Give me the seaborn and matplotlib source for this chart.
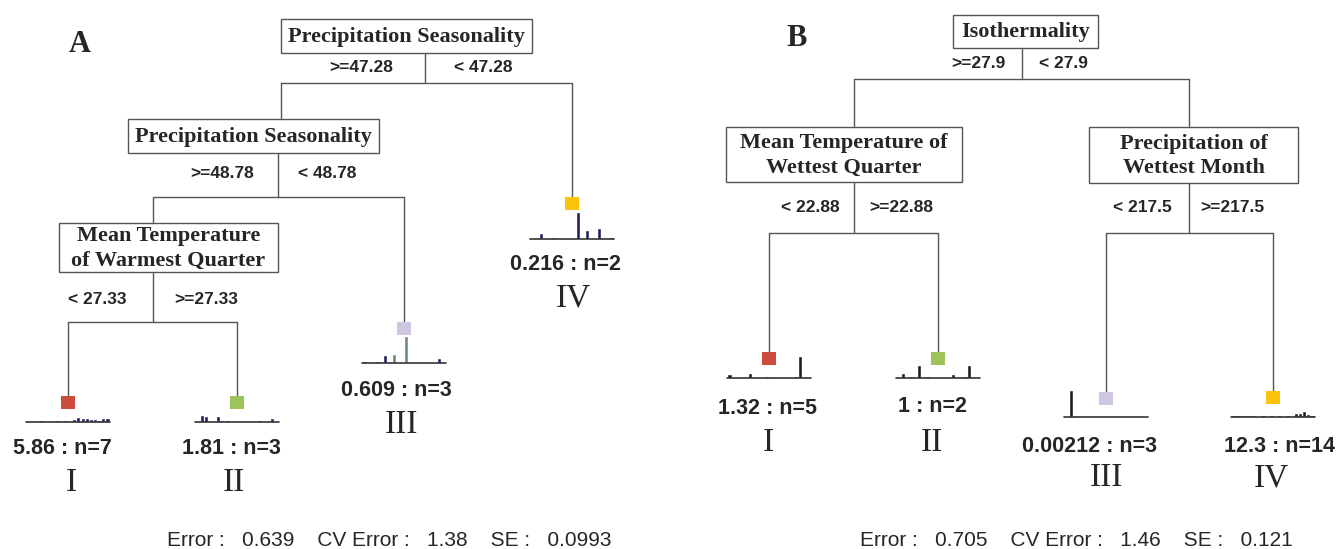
import matplotlib
matplotlib.use("Agg")
import matplotlib.pyplot as plt
import matplotlib.patches as patches
import pandas as pd
import seaborn as sns

W, H = 1339, 549

# ---- tree A ----
a_split_vars = ["Precipitation Seasonality", "Precipitation Seasonality", "Mean Temperature\nof Warmest Quarter"]
a_split_left = [">=47.28", ">=48.78", "< 27.33"]
a_split_right = ["< 47.28", "< 48.78", ">=27.33"]
a_leaf_means = ["5.86", "1.81", "0.609", "0.216"]
a_leaf_n = [7, 3, 3, 2]
a_errors = ["0.639", "1.38", "0.0993"]
a_hists = [
    [0, 0, 0, 1, 0, 0, 0, 1, 0, 1, 0, 2, 4, 3, 3, 2, 2, 1, 3, 3],
    [0, 6, 5, 0, 0, 5, 1.5, 1, 0, 0, 0, 0, 0, 0, 0, 1, 0, 0, 3, 0],
    [1, 0, 0, 1, 0, 7, 0, 8, 0, 0, 26, 0, 0, 0, 0, 0, 0, 0, 4, 0],
    [0, 0, 5, 0, 0, 1, 0, 0, 0, 0, 0, 26, 0, 8, 0, 0, 10, 0, 0, 1],
]
# bins drawn in grey instead of the dark bar colour (leaf index -> bins)
a_grey_bins = {2: [7, 10]}

# ---- tree B ----
b_split_vars = ["Isothermality", "Mean Temperature of\nWettest Quarter", "Precipitation of\nWettest Month"]
b_split_left = [">=27.9", "< 22.88", "< 217.5"]
b_split_right = ["< 27.9", ">=22.88", ">=217.5"]
b_leaf_means = ["1.32", "1", "0.00212", "12.3"]
b_leaf_n = [5, 2, 3, 14]
b_errors = ["0.705", "1.46", "0.121"]
b_hists = [
    [3, 0, 0, 0, 0, 4, 0, 0, 0, 1, 0, 0, 0, 0, 0, 0, 1, 21, 0, 0],
    [0, 4, 0, 1, 0, 12, 0, 1, 0, 0, 0, 0, 0, 3, 0, 0, 1, 12, 0, 0],
    [0, 26, 0, 0, 0, 0, 0, 0, 0, 0, 0, 0, 0, 0, 0, 0, 0, 0, 0, 0],
    [1, 1, 1, 1, 1.5, 1.5, 0, 1, 0, 1, 0, 1, 0, 1, 0, 3, 3, 5, 2, 1.5],
]
b_grey_bins = {}

groups = ["I", "II", "III", "IV"]
group_colors = ["#cd4b3d", "#9dc35b", "#cfc6e1", "#fbc30c"]

# ---- layout (pixels) ----
# box x0,y0,x1,y1 / split x / horizontal bar y / leg x / leg end y / label y / label x
a_nodes = [
    dict(box=(281, 19, 532, 53), split=425, bar=83, legs=(281, 572), ends=(119, 197), lab_y=68, lab_x=(361, 483)),
    dict(box=(128, 119, 379, 153), split=278, bar=197, legs=(153, 404), ends=(223, 322), lab_y=173, lab_x=(222, 327)),
    dict(box=(59, 223, 278, 272), split=153, bar=322, legs=(68, 237), ends=(396, 396), lab_y=299, lab_x=(97, 206)),
]
a_leaves = [
    dict(x=68, top=396, base=422, val=(62, 449), grp=(71, 483)),
    dict(x=237, top=396, base=422, val=(231, 449), grp=(234, 483)),
    dict(x=404, top=322, base=363, val=(396, 390), grp=(401, 425)),
    dict(x=572, top=197, base=239, val=(565, 265), grp=(573, 298)),
]
b_nodes = [
    dict(box=(953, 15, 1098, 48), split=1022, bar=79, legs=(854, 1189), ends=(127, 127), lab_y=63, lab_x=(978, 1063)),
    dict(box=(726, 127, 962, 182), split=854, bar=233, legs=(769, 938), ends=(352, 352), lab_y=207, lab_x=(810, 901)),
    dict(box=(1089, 127, 1298, 183), split=1189, bar=233, legs=(1106, 1273), ends=(392, 391), lab_y=207, lab_x=(1142, 1232)),
]
b_leaves = [
    dict(x=769, top=352, base=378, val=(768, 409), grp=(768, 443)),
    dict(x=938, top=352, base=378, val=(932, 407), grp=(932, 443)),
    dict(x=1106, top=392, base=417, val=(1089, 446), grp=(1106, 478)),
    dict(x=1273, top=391, base=417, val=(1280, 446), grp=(1271, 478)),
]
a_err_x, b_err_x, err_y = 167, 860, 540

sns.set_style("white")
SERIF = "Liberation Serif"
SANS = "Liberation Sans"
LINE = "#555555"
GREY_BAR = "#6f8584"

fig = plt.figure(figsize=(W / 100, H / 100), dpi=100)
ax = fig.add_axes([0, 0, 1, 1])
ax.set_xlim(0, W)
ax.set_ylim(H, 0)
ax.axis("off")


def draw_tree(nodes, split_vars, lefts, rights, leaves, means, ns, hists, bar_color, grey_bins):
    for node, var, lt, rt in zip(nodes, split_vars, lefts, rights):
        x0, y0, x1, y1 = node["box"]
        ax.add_patch(patches.Rectangle((x0, y0), x1 - x0, y1 - y0, fill=False,
                                       edgecolor=LINE, lw=1.0))
        ax.text((x0 + x1) / 2, (y0 + y1) / 2 + 1, var, ha="center", va="center",
                family=SERIF, fontweight="bold", fontsize=16, linespacing=1.3)
        sx = node["split"]
        ax.plot([sx, sx], [y1, node["bar"]], color=LINE, lw=1.0)
        ax.plot(list(node["legs"]), [node["bar"], node["bar"]], color=LINE, lw=1.0)
        for lx, ly in zip(node["legs"], node["ends"]):
            ax.plot([lx, lx], [node["bar"], ly], color=LINE, lw=1.0)
        ax.text(node["lab_x"][0], node["lab_y"], lt, ha="center", va="center",
                family=SANS, fontweight="bold", fontsize=12.5)
        ax.text(node["lab_x"][1], node["lab_y"], rt, ha="center", va="center",
                family=SANS, fontweight="bold", fontsize=12.5)

    for i, (leaf, m, n, hist, grp, col) in enumerate(zip(leaves, means, ns, hists, groups, group_colors)):
        x = leaf["x"]
        ax.add_patch(patches.Rectangle((x - 7, leaf["top"]), 14, 13, facecolor=col,
                                       edgecolor="none", zorder=3))
        # small histogram of the leaf
        iax = fig.add_axes([(x - 42) / W, 1 - leaf["base"] / H, 84 / W, 30 / H])
        df = pd.DataFrame({"bin": range(len(hist)), "count": hist})
        pal = [GREY_BAR if b in grey_bins.get(i, []) else bar_color for b in range(len(hist))]
        sns.barplot(data=df, x="bin", y="count", hue="bin", palette=pal, legend=False,
                    width=0.5, saturation=1, ax=iax)
        for p in iax.patches:
            p.set_edgecolor(p.get_facecolor())
            p.set_linewidth(0.4)
        iax.set_xlim(-0.6, len(hist) - 0.4)
        iax.set_ylim(0, 30)
        iax.axhline(0, color="#333333", lw=1.2, clip_on=False)
        iax.axis("off")
        iax.patch.set_alpha(0)
        ax.text(leaf["val"][0], leaf["val"][1], f"{m} : n={n}", ha="center", va="center",
                family=SANS, fontweight="bold", fontsize=15.5)
        ax.text(leaf["grp"][0], leaf["grp"][1], grp, ha="center", va="center",
                family=SERIF, fontsize=24)


draw_tree(a_nodes, a_split_vars, a_split_left, a_split_right, a_leaves,
          a_leaf_means, a_leaf_n, a_hists, "#1c1c5e", a_grey_bins)
draw_tree(b_nodes, b_split_vars, b_split_left, b_split_right, b_leaves,
          b_leaf_means, b_leaf_n, b_hists, "#1a1a1a", b_grey_bins)

ax.text(80, 45, "A", ha="center", va="center", family=SERIF, fontweight="bold", fontsize=22)
ax.text(797, 38, "B", ha="center", va="center", family=SERIF, fontweight="bold", fontsize=22)

err_fmt = "Error :   {}    CV Error :   {}    SE :   {}"
ax.text(a_err_x, err_y, err_fmt.format(*a_errors), ha="left", va="center", family=SANS, fontsize=15)
ax.text(b_err_x, err_y, err_fmt.format(*b_errors), ha="left", va="center", family=SANS, fontsize=15)

fig.savefig("out.png", dpi=100)
